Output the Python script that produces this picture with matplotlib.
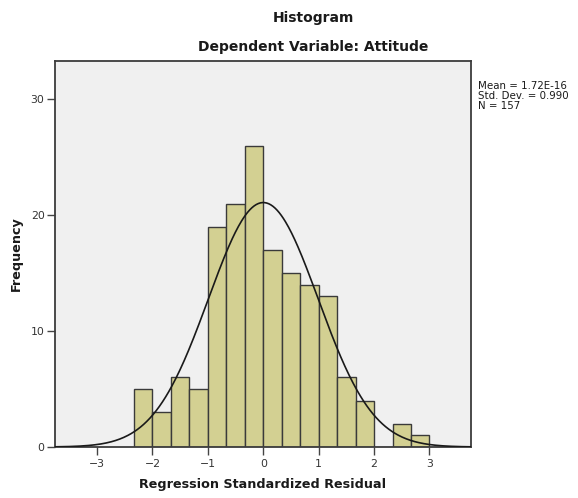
import numpy as np
import matplotlib
matplotlib.use("Agg")
import matplotlib.pyplot as plt

# Data
bin_edges = [-7/3, -2, -5/3, -4/3, -1, -2/3, -1/3, 0, 1/3, 2/3, 1, 4/3, 5/3, 2, 7/3, 8/3, 3]
counts = [5, 3, 6, 5, 19, 21, 26, 17, 15, 14, 13, 6, 4, 0, 2, 1]
stat_mean = 1.72e-16
stat_sd = 0.990
stat_n = 157
x_ticks = [-3, -2, -1, 0, 1, 2, 3]
x_tick_labels = ["\u22123", "\u22122", "\u22121", "0", "1", "2", "3"]
y_ticks = [0, 10, 20, 30]

W, H = 578, 498
fig = plt.figure(figsize=(W / 100, H / 100), dpi=100)
fig.patch.set_facecolor("white")

left, right, top, bottom = 55, 471, 61, 447
ax = fig.add_axes([left / W, (H - bottom) / H, (right - left) / W, (bottom - top) / H])
ax.set_facecolor("#f0f0f0")

edges = np.array(bin_edges)
widths = np.diff(edges)
ax.bar(edges[:-1], counts, width=widths, align="edge",
       color="#d3d092", edgecolor="#3a3a3a", linewidth=1.0, zorder=2)

# Normal curve from the reported statistics
bw = widths[0]
xs = np.linspace(-3.76, 3.75, 400)
ys = stat_n * bw * np.exp(-0.5 * ((xs - stat_mean) / stat_sd) ** 2) / (stat_sd * np.sqrt(2 * np.pi))
ax.plot(xs, ys, color="#1a1a1a", linewidth=1.2, zorder=3)

ax.set_xlim(-3.76, 3.75)
ax.set_ylim(0, 33.3)

ax.set_xticks(x_ticks)
ax.set_xticklabels(x_tick_labels)
ax.set_yticks(y_ticks)
ax.tick_params(axis="both", direction="out", length=5.5, width=1.0,
               colors="#444444", labelsize=7.8, labelcolor="#333333", pad=2)
ax.tick_params(axis="x", pad=3)

for s in ax.spines.values():
    s.set_color("#3c3c3c")
    s.set_linewidth(1.3)

ax.set_xlabel("Regression Standardized Residual", fontsize=9.2, fontweight="bold",
              color="#1a1a1a", labelpad=6.5)
ax.set_ylabel("Frequency", fontsize=9.2, fontweight="bold", color="#1a1a1a", labelpad=5.5)

fig.text(313 / W, 1 - 18 / H, "Histogram", ha="center", va="center",
         fontsize=10, fontweight="bold", color="#1a1a1a")
fig.text(313 / W, 1 - 47 / H, "Dependent Variable: Attitude", ha="center", va="center",
         fontsize=10, fontweight="bold", color="#1a1a1a")

stats_text = "Mean = 1.72E-16\nStd. Dev. = 0.990\nN = 157"
fig.text(478 / W, 1 - 81 / H, stats_text, ha="left", va="top",
         fontsize=7.4, color="#1a1a1a", linespacing=1.0)

fig.savefig("out.png", dpi=100)
